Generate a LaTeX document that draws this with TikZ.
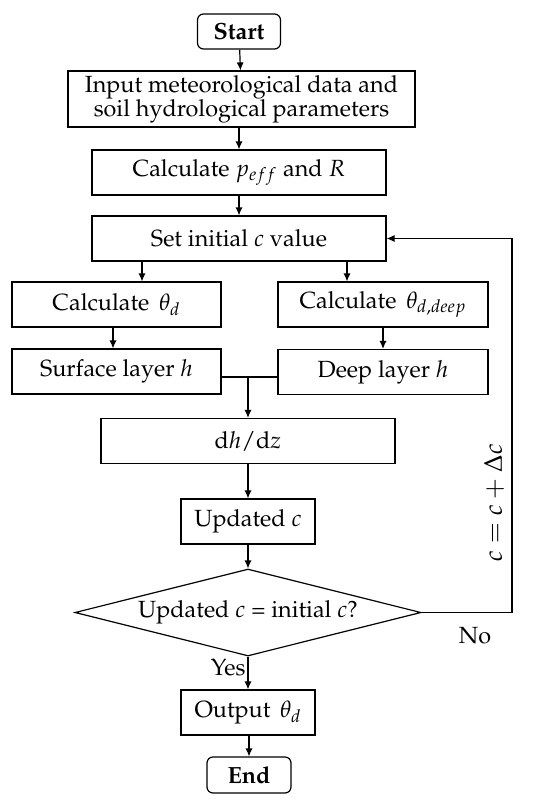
\documentclass[tikz,border=0pt]{standalone}
\usepackage[T1]{fontenc}
\usepackage{mathpazo}
\usetikzlibrary{shapes.geometric,arrows.meta}

\begin{document}
\begin{tikzpicture}[x=0.5pt, y=-0.5pt,
        prc/.style={rectangle, draw, line width=0.6pt, minimum height=22.5pt, inner sep=0pt, align=center, font=\fontsize{11.7}{12}\selectfont},
        trm/.style={prc, rounded corners=3pt, minimum height=17.5pt, font=\fontsize{11.7}{12}\selectfont\bfseries},
        dcs/.style={diamond, draw, line width=0.6pt, aspect=4, minimum width=173pt, minimum height=43.5pt, inner sep=0pt, font=\fontsize{11.7}{12}\selectfont},
        arr/.style={-{Latex[length=4pt, width=3.6pt]}, line width=0.6pt},
        lbl/.style={font=\fontsize{11.7}{12}\selectfont},
        ]

      \useasboundingbox (0,0) rectangle (550,804);

      \node[trm, minimum width=41.5pt] (start) at (239, 31.5) {Start};
      \node[prc, minimum width=173.5pt, minimum height=28pt] (inp) at (241.5, 99) {Input meteorological data and\\soil hydrological parameters};
      \node[prc, minimum width=147pt] (peff) at (239, 172.5) {Calculate $p_{eff}$ and $R$};
      \node[prc, minimum width=147pt] (init) at (239, 238.5) {Set initial $c$ value};

      \node[prc, minimum width=104.5pt] (thd) at (116.5, 304.5) {Calculate\, $\theta_d$};
      \node[prc, minimum width=105pt] (thdd) at (383, 304.5) {Calculate\, $\theta_{d,deep}$};
      \node[prc, minimum width=104.5pt] (surf) at (116.5, 371.5) {Surface layer $h$};
      \node[prc, minimum width=105pt] (deep) at (383, 372) {Deep layer $h$};

      \node[prc, minimum width=147pt] (dhdz) at (248, 441) {$\mathrm{d}h/\mathrm{d}z$};
      \node[prc, minimum width=67pt] (upd) at (248, 521.5) {Updated $c$};
      \node[dcs] (dec) at (248, 612.5) {Updated $c$ = initial $c$?};
      \node[prc, minimum width=67pt] (out) at (248, 712.5) {Output\, $\theta_d$};
      \node[trm, minimum width=42pt, minimum height=18pt] (end) at (249, 775) {End};

      \coordinate (mrg) at (248, 377);
      \coordinate (rt) at (512, 612.5);

      \draw[arr] (start) -- (inp);
      \draw[arr] (inp.south -| start) -- (peff.north -| start);
      \draw[arr] (peff) -- (init);
      \draw[arr] (init.south -| 142,0) -- (thd.north -| 142,0);
      \draw[arr] (init.south -| 347,0) -- (thdd.north -| 347,0);
      \draw[arr] (thd.south -| 113,0) -- (surf.north -| 113,0);
      \draw[arr] (thdd) -- (deep);

      \draw[line width=0.6pt] (surf.east |- mrg) -- (deep.west |- mrg);
      \draw[arr] (mrg) -- (dhdz.north -| mrg);
      \draw[arr] (dhdz) -- (upd);
      \draw[arr] (upd) -- (dec.north);
      \draw[arr] (dec.south) -- (out) node[lbl, pos=0.35, anchor=east, inner sep=1pt] {Yes};
      \draw[arr] (out.south -| end) -- (end);

      \draw[arr] (dec.east) -- (rt) |- (init.east);
      \node[lbl, rotate=90, font=\fontsize{12.8}{13}\selectfont] (inc) at (494, 503) {$c = c + \Delta c$};
      \node[lbl] (no) at (475, 636) {No};

    \end{tikzpicture}
\end{document}
